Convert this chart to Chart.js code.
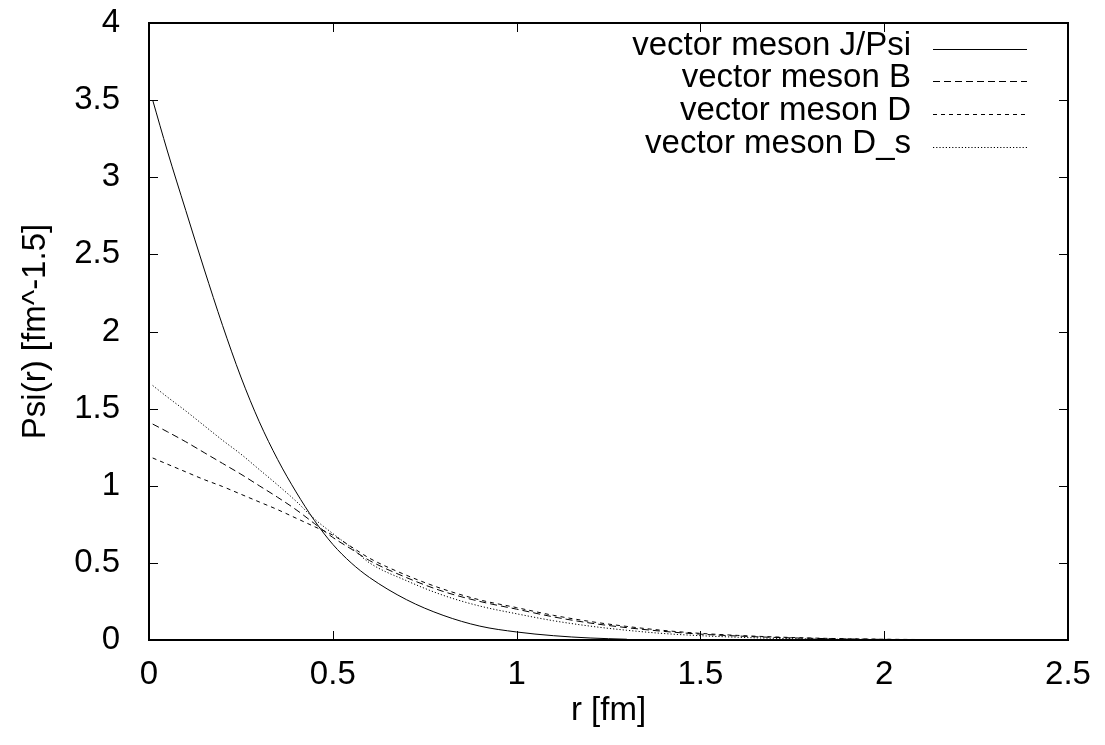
<!DOCTYPE html>
<html><head><meta charset="utf-8">
<script src="https://cdn.jsdelivr.net/npm/chart.js@4"></script>
<style>html,body{margin:0;padding:0;background:#fff}#wrap{width:1105px;height:745px}</style>
</head><body><div id="wrap"><canvas id="c" width="1105" height="745"></canvas></div>
<script>
// radial grid r [fm]
const r = [0.01,0.05,0.1,0.15,0.2,0.25,0.3,0.35,0.4,0.45,0.5,0.55,0.6,0.7,0.8,0.9,1.0,1.1,1.2,1.3,1.4,1.5,1.6,1.7,1.8,1.9,2.0,2.1,2.2];
// Psi(r) [fm^-1.5] per meson
const psiJPsi = [3.50,3.17,2.785,2.405,2.04,1.705,1.415,1.17,0.96,0.775,0.62,0.50,0.405,0.262,0.16,0.09,0.052,0.028,0.013,0.005];
const psiB    = [1.40,1.35,1.285,1.215,1.145,1.075,1.0,0.925,0.845,0.755,0.665,0.59,0.515,0.405,0.315,0.25,0.20,0.15,0.11,0.08,0.056,0.038,0.026,0.017,0.011,0.007,0.004,0.002];
const psiD    = [1.18,1.14,1.09,1.04,0.995,0.945,0.895,0.845,0.79,0.735,0.68,0.605,0.53,0.42,0.33,0.26,0.21,0.16,0.12,0.088,0.062,0.043,0.03,0.02,0.013,0.008,0.005,0.003,0.001];
const psiDs   = [1.65,1.575,1.485,1.39,1.295,1.205,1.105,1.005,0.90,0.785,0.69,0.60,0.50,0.385,0.29,0.22,0.17,0.125,0.09,0.063,0.042,0.028,0.018,0.011,0.007,0.004,0.002];
const seriesLabels = ['vector meson J/Psi','vector meson B','vector meson D','vector meson D_s'];
const xTicks = [0,0.5,1,1.5,2,2.5];
const yTicks = [0,0.5,1,1.5,2,2.5,3,3.5,4];

const FONT = 'Liberation Sans, Arial, sans-serif';
const FS = 33;
const toPts = vals => vals.map((v,i)=>({x:r[i], y:v}));
const dashes = [[], [7,4], [4,4], [1.2,2]];
const allSeries = [psiJPsi, psiB, psiD, psiDs];

const framePlugin = {
  id:'frame',
  afterDraw(chart){
    const {ctx, chartArea:a, scales:{x, y}} = chart;
    ctx.save();
    ctx.strokeStyle = '#000';
    ctx.lineWidth = 1;
    ctx.setLineDash([]);
    const tl = 9;
    ctx.beginPath();
    xTicks.forEach(v=>{ const px = Math.round(x.getPixelForValue(v))+0.5;
      ctx.moveTo(px, a.bottom); ctx.lineTo(px, a.bottom - tl);
      ctx.moveTo(px, a.top); ctx.lineTo(px, a.top + tl); });
    yTicks.forEach(v=>{ const py = Math.round(y.getPixelForValue(v))+0.5;
      ctx.moveTo(a.left, py); ctx.lineTo(a.left + tl, py);
      ctx.moveTo(a.right, py); ctx.lineTo(a.right - tl, py); });
    ctx.stroke();
    ctx.lineWidth = 2;
    ctx.strokeRect(a.left, a.top, a.right - a.left, a.bottom - a.top);
    // legend (gnuplot style: text right-aligned, sample on the right)
    ctx.font = FS + 'px ' + FONT;
    ctx.textAlign = 'right';
    ctx.textBaseline = 'alphabetic';
    chart.data.datasets.forEach((ds,i)=>{
      const yy = a.top + 25.5 + i*32.8;
      ctx.fillStyle = '#000';
      ctx.fillText(ds.label, a.right - 157, yy + 6);
      ctx.beginPath();
      ctx.lineWidth = 1;
      ctx.setLineDash(ds.borderDash || []);
      ctx.strokeStyle = ds.borderColor;
      ctx.moveTo(a.right - 135, Math.round(yy)+0.5);
      ctx.lineTo(a.right - 41, Math.round(yy)+0.5);
      ctx.stroke();
    });
    ctx.restore();
  }
};

new Chart(document.getElementById('c'), {
  type:'line',
  data:{
    datasets: allSeries.map((vals,i)=>({
      label: seriesLabels[i],
      data: toPts(vals),
      borderColor:'#000',
      borderWidth:1,
      borderDash: dashes[i],
      pointRadius:0,
      fill:false,
      cubicInterpolationMode:'monotone'
    }))
  },
  options:{
    responsive:false, animation:false, devicePixelRatio:1,
    layout:{padding:{left:0,right:37,top:23,bottom:0}},
    plugins:{legend:{display:false}, tooltip:{enabled:false}},
    scales:{
      x:{type:'linear', min:0, max:2.5,
        afterBuildTicks(s){ s.ticks = xTicks.map(v=>({value:v})); },
        ticks:{color:'#000', font:{family:FONT, size:FS}, padding:7, maxRotation:0, autoSkip:false, callback:v=>String(v)},
        grid:{display:false}, border:{display:false},
        title:{display:true, text:'r [fm]', color:'#000', font:{family:FONT, size:FS}, padding:{top:0,bottom:14}},
        afterFit(s){ s.height = 105; s.paddingLeft = 0; s.paddingRight = 0; }
      },
      y:{type:'linear', min:0, max:4,
        afterBuildTicks(s){ s.ticks = yTicks.map(v=>({value:v})); },
        ticks:{color:'#000', font:{family:FONT, size:FS}, padding:21, autoSkip:false, callback:v=>String(v)},
        grid:{display:false}, border:{display:false},
        title:{display:true, text:'Psi(r) [fm^-1.5]', color:'#000', font:{family:FONT, size:FS}, padding:{top:16,bottom:0}},
        afterFit(s){ s.width = 149; s.paddingTop = 0; s.paddingBottom = 0; }
      }
    }
  },
  plugins:[framePlugin]
});
</script></body></html>
